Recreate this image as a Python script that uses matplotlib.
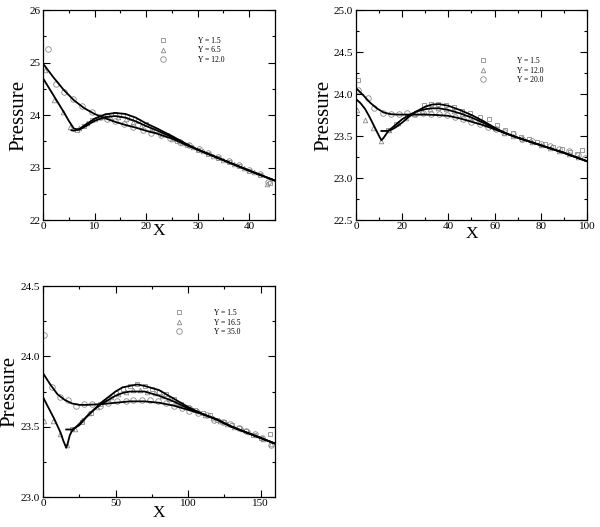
import matplotlib
matplotlib.use("Agg")
import matplotlib.pyplot as plt
from matplotlib.ticker import MultipleLocator
from matplotlib.lines import Line2D

plt.rcParams['font.family'] = ['Liberation Serif', 'DejaVu Serif']

# ==========================================
# 1. DATA
# ==========================================
# ---- panel 1 : Y = 1.5 / 6.5 / 12.0 ----
p1_labels = ['Y = 1.5', 'Y = 6.5', 'Y = 12.0']
p1_line_a_x = [5.5, 6, 7, 8, 10, 12, 14, 16, 18, 20, 22, 25, 28, 30, 35, 40, 45]
p1_line_a_y = [23.71, 23.70, 23.73, 23.80, 23.93, 24.01, 24.04, 24.02, 23.95, 23.84, 23.75, 23.60, 23.44, 23.34, 23.14, 22.94, 22.75]
p1_line_b_x = [0, 2, 4, 5, 6, 7, 8, 10, 12, 14, 16, 18, 20, 22, 25, 28, 30, 35, 40, 45]
p1_line_b_y = [24.70, 24.38, 24.06, 23.89, 23.74, 23.72, 23.77, 23.89, 23.96, 23.98, 23.95, 23.88, 23.79, 23.71, 23.58, 23.43, 23.34, 23.14, 22.94, 22.75]
p1_line_c_x = [0, 2, 4, 6, 8, 10, 12, 14, 16, 18, 20, 22, 25, 28, 30, 35, 40, 45]
p1_line_c_y = [24.98, 24.72, 24.48, 24.28, 24.13, 24.02, 23.94, 23.87, 23.81, 23.76, 23.70, 23.65, 23.55, 23.42, 23.34, 23.14, 22.94, 22.75]

p1_sq_x = [6.5, 8, 9.5, 11, 12.5, 14, 15.5, 17, 18.5, 20, 22, 24, 26, 28, 30, 32, 34, 36, 38, 40, 42, 44]
p1_sq_y = [23.72, 23.80, 23.90, 23.97, 24.00, 24.02, 24.00, 23.95, 23.89, 23.83, 23.72, 23.62, 23.51, 23.42, 23.33, 23.26, 23.18, 23.10, 23.02, 22.94, 22.86, 22.70]
p1_tri_x = [0.3, 2.2, 3.9, 5.3, 7, 8.5, 10, 11.5, 13, 14.5, 16, 17.5, 19, 21, 23, 25, 27, 29, 31, 33, 35, 37, 39, 41, 43.5]
p1_tri_y = [24.85, 24.28, 24.05, 23.78, 23.75, 23.85, 23.92, 23.96, 23.97, 23.96, 23.92, 23.86, 23.80, 23.72, 23.64, 23.55, 23.47, 23.39, 23.31, 23.22, 23.15, 23.07, 22.99, 22.91, 22.68]
p1_cir_x = [1, 2.5, 4, 5.8, 7.5, 9.5, 11, 12.5, 14, 15.8, 17.5, 19.3, 21, 22.8, 24.6, 26.5, 28.3, 30.2, 32, 34, 36, 38, 40, 42, 43.7]
p1_cir_y = [25.25, 24.60, 24.43, 24.30, 24.18, 24.06, 23.97, 23.92, 23.88, 23.82, 23.77, 23.71, 23.66, 23.61, 23.56, 23.49, 23.42, 23.35, 23.28, 23.20, 23.12, 23.04, 22.96, 22.87, 22.72]

# ---- panel 2 : Y = 1.5 / 12.0 / 20.0 ----
p2_labels = ['Y = 1.5', 'Y = 12.0', 'Y = 20.0']
p2_line_a_x = [11, 13, 15, 17, 20, 23, 26, 30, 33, 36, 40, 45, 50, 55, 60, 65, 70, 80, 90, 100]
p2_line_a_y = [23.56, 23.56, 23.57, 23.60, 23.66, 23.73, 23.79, 23.85, 23.875, 23.88, 23.86, 23.81, 23.75, 23.68, 23.60, 23.53, 23.48, 23.39, 23.30, 23.20]
p2_line_b_x = [0, 2, 4, 6, 8, 10, 11, 12, 14, 17, 20, 23, 26, 30, 33, 36, 40, 45, 50, 55, 60, 65, 70, 80, 90, 100]
p2_line_b_y = [23.94, 23.89, 23.82, 23.72, 23.61, 23.50, 23.45, 23.48, 23.56, 23.63, 23.70, 23.75, 23.79, 23.82, 23.83, 23.83, 23.81, 23.77, 23.72, 23.66, 23.59, 23.53, 23.48, 23.39, 23.30, 23.20]
p2_line_c_x = [0, 3, 6, 9, 12, 15, 18, 22, 26, 30, 35, 40, 45, 50, 55, 60, 65, 70, 80, 90, 100]
p2_line_c_y = [24.07, 23.99, 23.90, 23.83, 23.78, 23.76, 23.755, 23.755, 23.755, 23.755, 23.75, 23.74, 23.71, 23.67, 23.63, 23.58, 23.53, 23.48, 23.39, 23.30, 23.20]

p2_sq_x = [1, 14, 17.5, 29.5, 32.5, 35.5, 39, 42.5, 46, 49.5, 53.5, 57.5, 61, 64.5, 68, 71.5, 75, 78.5, 82, 85.5, 89, 92.5, 95.5, 98]
p2_sq_y = [24.17, 23.57, 23.64, 23.87, 23.88, 23.88, 23.87, 23.85, 23.80, 23.77, 23.73, 23.70, 23.63, 23.57, 23.53, 23.49, 23.46, 23.43, 23.40, 23.37, 23.34, 23.31, 23.28, 23.33]
p2_tri_x = [0.5, 4, 7.5, 11, 14.5, 18, 21.5, 25, 28.5, 32, 35.5, 39, 42.5, 46, 49.5, 53, 56.5, 60, 64, 68, 72, 76, 80, 84, 88, 92, 96]
p2_tri_y = [23.81, 23.69, 23.60, 23.44, 23.57, 23.65, 23.71, 23.76, 23.80, 23.82, 23.83, 23.82, 23.80, 23.76, 23.72, 23.68, 23.64, 23.59, 23.54, 23.50, 23.46, 23.43, 23.39, 23.36, 23.32, 23.29, 23.25]
p2_cir_x = [1, 5, 8, 11.5, 15, 18.5, 22, 25.5, 29, 32.5, 36, 39.5, 43, 46.5, 50, 53.5, 57, 60.5, 64, 68, 72, 76, 80, 84, 88, 92, 96, 99]
p2_cir_y = [24.05, 23.95, 23.83, 23.77, 23.76, 23.76, 23.77, 23.76, 23.77, 23.76, 23.76, 23.75, 23.73, 23.70, 23.67, 23.64, 23.61, 23.58, 23.55, 23.52, 23.47, 23.44, 23.41, 23.38, 23.35, 23.32, 23.27, 23.24]

# ---- panel 3 : Y = 1.5 / 16.5 / 35.0 ----
p3_labels = ['Y = 1.5', 'Y = 16.5', 'Y = 35.0']
p3_line_a_x = [16, 18, 20, 25, 30, 35, 40, 45, 50, 55, 60, 65, 70, 80, 90, 100, 110, 120, 130, 140, 150, 160]
p3_line_a_y = [23.48, 23.48, 23.48, 23.51, 23.57, 23.62, 23.67, 23.71, 23.75, 23.78, 23.79, 23.80, 23.79, 23.76, 23.70, 23.64, 23.59, 23.55, 23.50, 23.46, 23.42, 23.38]
p3_line_b_x = [0, 4, 8, 12, 14, 16, 17, 18.5, 20, 22, 25, 30, 35, 40, 45, 50, 55, 60, 65, 70, 80, 90, 100, 110, 120, 130, 140, 150, 160]
p3_line_b_y = [23.71, 23.63, 23.55, 23.46, 23.40, 23.35, 23.38, 23.44, 23.47, 23.49, 23.52, 23.57, 23.62, 23.66, 23.69, 23.72, 23.74, 23.75, 23.75, 23.75, 23.72, 23.68, 23.63, 23.59, 23.55, 23.50, 23.46, 23.42, 23.38]
p3_line_c_x = [0, 5, 10, 15, 20, 25, 30, 40, 50, 60, 70, 80, 90, 100, 110, 120, 130, 140, 150, 160]
p3_line_c_y = [23.88, 23.80, 23.73, 23.69, 23.665, 23.655, 23.655, 23.66, 23.67, 23.68, 23.68, 23.67, 23.65, 23.62, 23.59, 23.55, 23.50, 23.46, 23.42, 23.38]

p3_sq_x = [20, 27, 33, 39, 45, 50, 55, 60, 65, 70, 75, 80, 85, 90, 95, 100, 105, 110, 115, 120, 125, 130, 135, 140, 145, 150, 156.5]
p3_sq_y = [23.48, 23.53, 23.60, 23.66, 23.70, 23.74, 23.77, 23.79, 23.80, 23.79, 23.77, 23.75, 23.73, 23.70, 23.66, 23.64, 23.62, 23.60, 23.58, 23.55, 23.53, 23.51, 23.49, 23.47, 23.44, 23.42, 23.45]
p3_tri_x = [1, 7, 12, 16.5, 22, 27, 32, 37, 42, 47, 52, 57, 62, 67, 72, 77, 82, 87, 92, 97, 102, 107, 112, 117, 122, 127, 132, 137, 142, 147, 152, 157]
p3_tri_y = [23.54, 23.54, 23.45, 23.37, 23.48, 23.55, 23.60, 23.64, 23.68, 23.71, 23.73, 23.75, 23.76, 23.76, 23.75, 23.74, 23.72, 23.70, 23.67, 23.65, 23.63, 23.61, 23.58, 23.56, 23.54, 23.52, 23.50, 23.48, 23.46, 23.44, 23.41, 23.38]
p3_cir_x = [0.5, 6, 11.5, 17, 23, 28, 34, 39, 45, 51, 57, 62, 68, 74, 79, 85, 90, 96, 101, 107, 113, 118, 124, 129, 135, 140, 146, 151, 157]
p3_cir_y = [24.15, 23.78, 23.71, 23.69, 23.65, 23.66, 23.66, 23.65, 23.67, 23.68, 23.68, 23.69, 23.69, 23.69, 23.68, 23.67, 23.65, 23.63, 23.61, 23.60, 23.58, 23.55, 23.53, 23.52, 23.49, 23.47, 23.45, 23.42, 23.37]

# ==========================================
# 2. STYLE
# ==========================================
LINE_KW = dict(color='black', lw=1.3, zorder=3)
MARK_COLOR = '#8a8a8a'
MARKERS = [('s', 3.0), ('^', 3.3), ('o', 4.0)]


def draw_panel(ax, lines, marks, labels, xlim, ylim, xmaj, xmin, ymaj, ymin,
               leg_anchor, ylab_x, xlab_y):
    for lx, ly in lines:
        ax.plot(lx, ly, **LINE_KW)

    handles = []
    for (mx, my), (mk, ms), lab in zip(marks, MARKERS, labels):
        ax.plot(mx, my, ls='none', marker=mk, ms=ms, mfc='none',
                mec=MARK_COLOR, mew=0.6, zorder=2)
        handles.append(Line2D([], [], ls='none', marker=mk, ms=ms, mfc='none',
                              mec=MARK_COLOR, mew=0.6, label=lab))

    ax.legend(handles=handles, loc='upper left', bbox_to_anchor=leg_anchor,
              frameon=False, fontsize=5.5, handlelength=1.0, handletextpad=4.0,
              labelspacing=0.2, borderpad=0, borderaxespad=0)

    ax.set_xlim(*xlim)
    ax.set_ylim(*ylim)
    ax.xaxis.set_major_locator(MultipleLocator(xmaj))
    ax.xaxis.set_minor_locator(MultipleLocator(xmin))
    ax.yaxis.set_major_locator(MultipleLocator(ymaj))
    ax.yaxis.set_minor_locator(MultipleLocator(ymin))
    ax.tick_params(which='both', direction='in', top=True, right=True, width=0.8)
    ax.tick_params(which='major', length=5, labelsize=8)
    ax.tick_params(which='minor', length=2.5)
    ax.tick_params(axis='x', pad=1.5)
    ax.tick_params(axis='y', pad=2)
    for sp in ax.spines.values():
        sp.set_linewidth(0.9)

    ax.set_ylabel('Pressure', fontsize=15)
    ax.set_xlabel('X', fontsize=12.5)
    ax.yaxis.set_label_coords(ylab_x, 0.5)
    ax.xaxis.set_label_coords(0.5, xlab_y)
    ax.xaxis.label.set_va('top')


# ==========================================
# 3. FIGURE
# ==========================================
fig = plt.figure(figsize=(6.0, 5.27), dpi=100)
ax1 = fig.add_axes([0.0717, 0.5825, 0.3867, 0.3985])
ax2 = fig.add_axes([0.5933, 0.5825, 0.3850, 0.3985])
ax3 = fig.add_axes([0.0717, 0.0569, 0.3867, 0.4004])

draw_panel(ax1,
           [(p1_line_a_x, p1_line_a_y), (p1_line_b_x, p1_line_b_y), (p1_line_c_x, p1_line_c_y)],
           [(p1_sq_x, p1_sq_y), (p1_tri_x, p1_tri_y), (p1_cir_x, p1_cir_y)],
           p1_labels, (0, 45), (22, 26), 10, 5, 1, 0.5,
           (0.502, 0.873), -0.065, -0.013)

draw_panel(ax2,
           [(p2_line_a_x, p2_line_a_y), (p2_line_b_x, p2_line_b_y), (p2_line_c_x, p2_line_c_y)],
           [(p2_sq_x, p2_sq_y), (p2_tri_x, p2_tri_y), (p2_cir_x, p2_cir_y)],
           p2_labels, (0, 100), (22.5, 25), 20, 10, 0.5, 0.25,
           (0.533, 0.776), -0.10, -0.029)

draw_panel(ax3,
           [(p3_line_a_x, p3_line_a_y), (p3_line_b_x, p3_line_b_y), (p3_line_c_x, p3_line_c_y)],
           [(p3_sq_x, p3_sq_y), (p3_tri_x, p3_tri_y), (p3_cir_x, p3_cir_y)],
           p3_labels, (0, 160), (23, 24.5), 50, 25, 0.5, 0.25,
           (0.571, 0.891), -0.10, -0.040)

fig.savefig('out.png', dpi=100, facecolor='white')
